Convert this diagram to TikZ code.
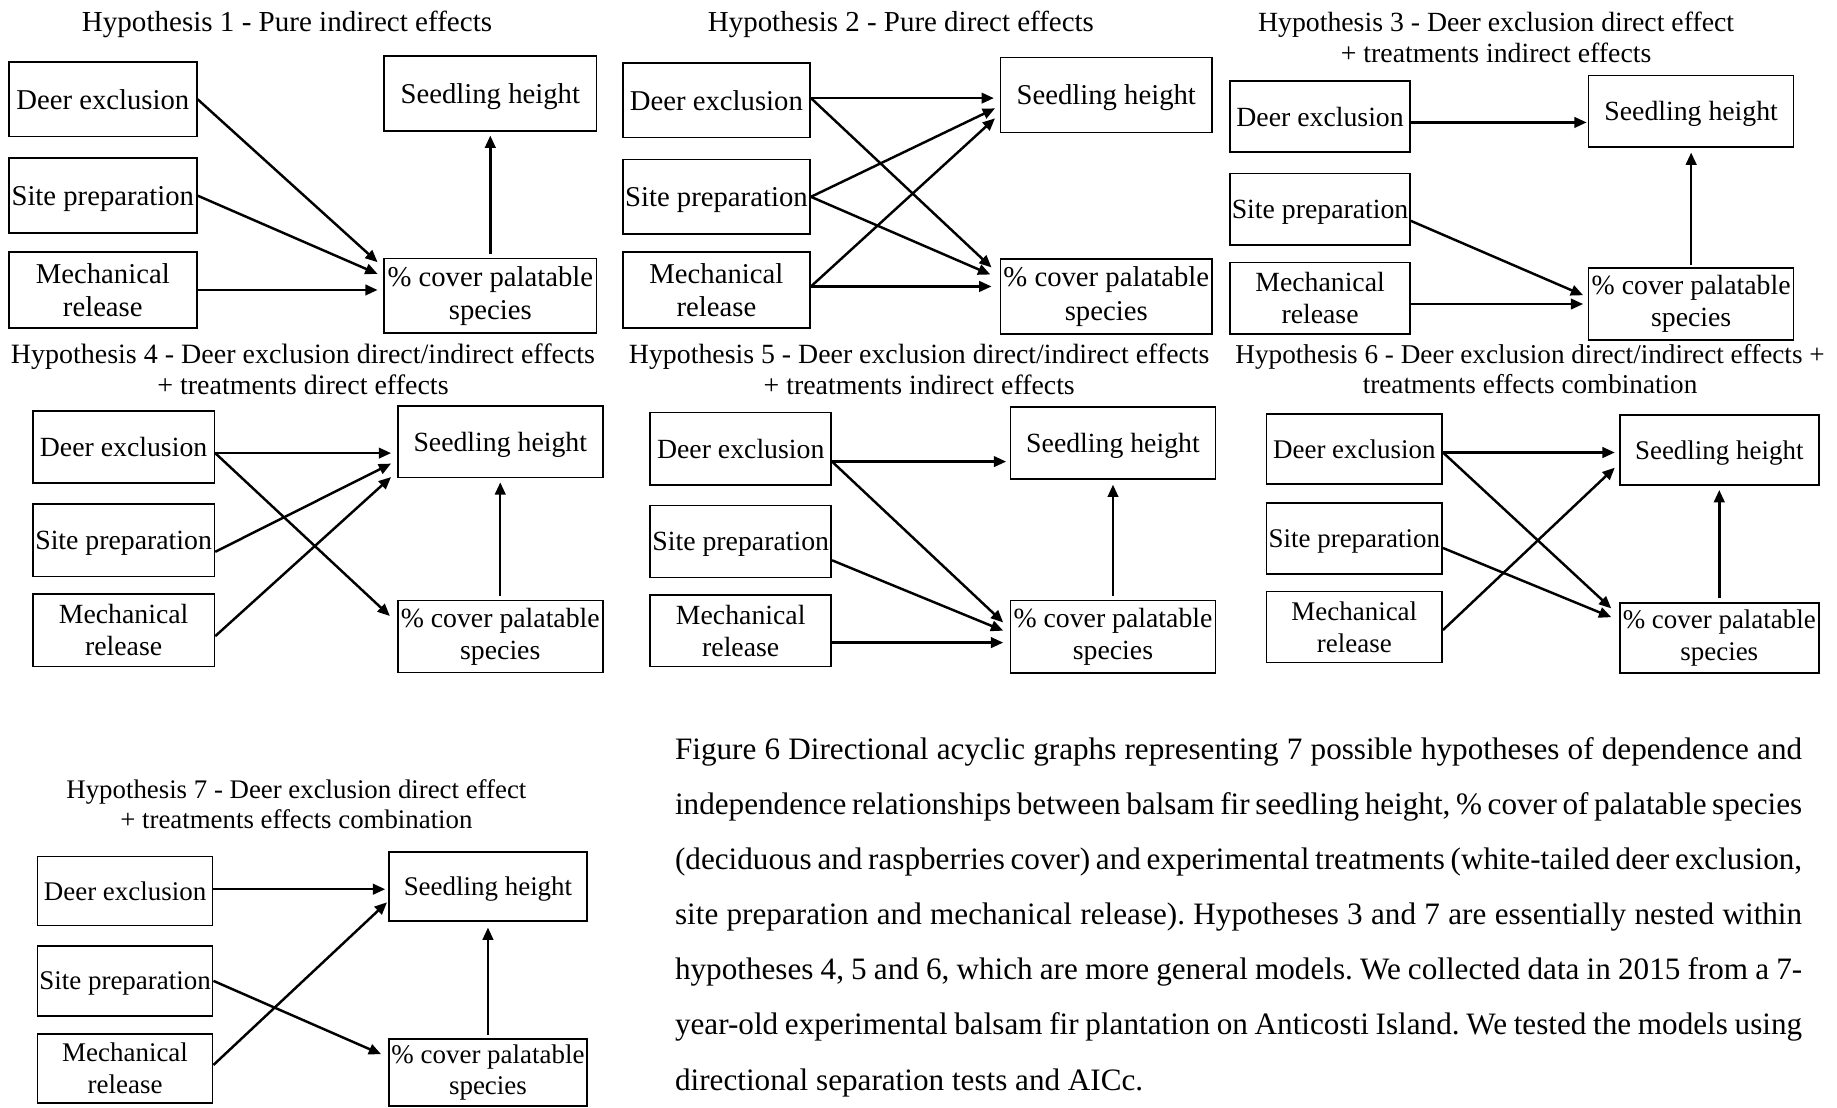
\documentclass[tikz,border=0pt]{standalone}
\usepackage{fontspec}
\setmainfont{Liberation Serif}
\usetikzlibrary{arrows.meta,calc}
\newcommand{\capsetup}{\frenchspacing\spaceskip=0.25em plus 0.15em minus 0.16em\relax\tolerance=9999\relax\hyphenpenalty=10000\relax\baselineskip=47pt\relax}
\tikzset{
  bx/.style={draw, line width=1.4pt, inner sep=0pt, align=center},
  sl/.style={text depth=0pt},
  arr/.style={-{Triangle[length=10.5pt,width=9pt]}, line width=2.1pt},
  ttl/.style={inner sep=0pt, align=center},
  captxt/.style={inner sep=0pt, text width=962pt, align=justify, font=\fontsize{26.6}{47}\selectfont}
}
\newcommand{\mybox}[7][]{\node[bx, #1, minimum width={#5-#3}, minimum height={#6-#4}] (#2) at ({(#3+#5)/2},{(#4+#6)/2}) {#7};}
\begin{document}
\begin{tikzpicture}[x=1pt,y=-1pt]
\path[fill=white,use as bounding box] (0,0) rectangle (1568,945);

% ---------------- Hypothesis 1
\node[ttl, sl, font=\fontsize{24.8}{26.5}\selectfont] (t1) at (245,18.5) {Hypothesis 1 - Pure indirect effects};
\begin{scope}[bx/.append style={font=\fontsize{24.5}{28.5}\selectfont}]
\mybox[sl]{d1}{7.5}{53}{168}{116.5}{Deer exclusion}
\mybox[sl]{s1}{7.5}{135}{168}{199}{Site preparation}
\mybox{m1}{7.5}{215}{168}{280}{Mechanical\\release}
\mybox[sl]{h1}{328}{48}{509}{112}{Seedling height}
\mybox{c1}{328}{220.5}{509}{284.5}{\% cover palatable\\species}
\end{scope}
\draw[arr] (d1.east) -- ($(c1.north west)+(-5,4)$);
\draw[arr] (s1.east) -- ($(c1.north west)+(-5,14)$);
\draw[arr] (m1.east) -- ($(m1.east -| c1.west)+(-5,0)$);
\draw[arr] ($(c1.north)+(0,-3)$) -- ($(h1.south)+(0,3)$);

% ---------------- Hypothesis 2
\node[ttl, sl, font=\fontsize{24.7}{26.5}\selectfont] (t2) at (769,18.5) {Hypothesis 2 - Pure direct effects};
\begin{scope}[bx/.append style={font=\fontsize{24.5}{28.5}\selectfont}]
\mybox[sl]{d2}{531.5}{54}{691.5}{117.5}{Deer exclusion}
\mybox[sl]{s2}{531.5}{136}{691.5}{200}{Site preparation}
\mybox{m2}{531.5}{215}{691.5}{280}{Mechanical\\release}
\mybox[sl]{h2}{854}{49}{1034.5}{113}{Seedling height}
\mybox{c2}{854}{221}{1034.5}{285}{\% cover palatable\\species}
\end{scope}
\draw[arr] ($(d2.east)+(0,-2)$) -- ($(d2.east -| h2.west)+(-5,-2)$);
\draw[arr] ($(d2.east)+(0,-2)$) -- ($(c2.north west)+(-7,8)$);
\draw[arr] (s2.east) -- ($(h2.west)+(-4,11.5)$);
\draw[arr] (s2.east) -- ($(c2.north west)+(-8,14)$);
\draw[arr] ($(m2.east)+(0,-3)$) -- ($(h2.west)+(-4,20)$);
\draw[arr] ($(m2.east)+(0,-3)$) -- ($(m2.east -| c2.west)+(-7,-3)$);

% ---------------- Hypothesis 3
\node[ttl, font=\fontsize{23.7}{26.5}\selectfont] (t3) at (1277,31.75) {Hypothesis 3 - Deer exclusion direct effect\\+ treatments indirect effects};
\begin{scope}[bx/.append style={font=\fontsize{23.7}{27.5}\selectfont}]
\mybox[sl]{d3}{1050}{69}{1203.5}{130}{Deer exclusion}
\mybox[sl]{s3}{1050}{148}{1203.5}{209}{Site preparation}
\mybox{m3}{1050}{224}{1203.5}{285}{Mechanical\\release}
\mybox[sl]{h3}{1356}{64.5}{1531}{125.5}{Seedling height}
\mybox{c3}{1356}{229}{1531}{290}{\% cover palatable\\species}
\end{scope}
\draw[arr] ($(d3.east)+(0,5)$) -- ($(d3.east -| h3.west)+(-1,5)$);
\draw[arr] ($(s3.east)+(0,10)$) -- ($(c3.west)+(-4,-7.5)$);
\draw[arr] ($(m3.east)+(0,5)$) -- ($(m3.east -| c3.west)+(-4,5)$);
\draw[arr] ($(c3.north)+(0,-2.5)$) -- ($(h3.south)+(0,4)$);

% ---------------- Hypothesis 4
\node[ttl, font=\fontsize{23.9}{26.5}\selectfont] (t4) at (258.6,315) {Hypothesis 4 - Deer exclusion direct/indirect effects\\+ treatments direct effects};
\begin{scope}[bx/.append style={font=\fontsize{23.7}{27.5}\selectfont}]
\mybox[sl]{d4}{28}{351}{183}{412.5}{Deer exclusion}
\mybox[sl]{s4}{28}{430}{183}{492}{Site preparation}
\mybox{m4}{28}{507}{183}{569}{Mechanical\\release}
\mybox[sl]{h4}{339.5}{346.5}{514.5}{407.5}{Seedling height}
\mybox{c4}{339.5}{512.5}{514.5}{574}{\% cover palatable\\species}
\end{scope}
\draw[arr] ($(d4.east)+(0,5)$) -- ($(d4.east -| h4.west)+(-5,5)$);
\draw[arr] ($(d4.east)+(0,5)$) -- ($(c4.north west)+(-6,14)$);
\draw[arr] ($(s4.east)+(0,10)$) -- ($(h4.south west)+(-5,-12.5)$);
\draw[arr] ($(m4.east)+(0,5)$) -- ($(h4.south west)+(-5,-1)$);
\draw[arr] ($(c4.north)+(0,-3.5)$) -- ($(h4.south)+(0,3.5)$);

% ---------------- Hypothesis 5
\node[ttl, font=\fontsize{23.75}{26.5}\selectfont] (t5) at (784.6,315) {Hypothesis 5 - Deer exclusion direct/indirect effects\\+ treatments indirect effects};
\begin{scope}[bx/.append style={font=\fontsize{23.7}{27.5}\selectfont}]
\mybox[sl]{d5}{555}{352}{709.5}{414}{Deer exclusion}
\mybox[sl]{s5}{555}{431.5}{709.5}{493}{Site preparation}
\mybox{m5}{555}{508}{709.5}{569}{Mechanical\\release}
\mybox[sl]{h5}{862.5}{347.5}{1037.5}{409}{Seedling height}
\mybox{c5}{862.5}{512.5}{1037.5}{574.5}{\% cover palatable\\species}
\end{scope}
\draw[arr] ($(d5.east)+(0,11)$) -- ($(d5.east -| h5.west)+(-3,11)$);
\draw[arr] ($(d5.east)+(0,11)$) -- ($(c5.north west)+(-5.5,19.5)$);
\draw[arr] ($(s5.east)+(0,16)$) -- ($(c5.north west)+(-5.5,26.5)$);
\draw[arr] ($(m5.east)+(0,10)$) -- ($(m5.east -| c5.west)+(-5.5,10)$);
\draw[arr] ($(c5.north)+(0,-3.5)$) -- ($(h5.south)+(0,4)$);

% ---------------- Hypothesis 6
\node[ttl, font=\fontsize{23.2}{26}\selectfont] (t6) at (1306,315) {Hypothesis 6 - Deer exclusion direct/indirect effects +\\treatments effects combination};
\begin{scope}[bx/.append style={font=\fontsize{23}{27}\selectfont}]
\mybox[sl]{d6}{1081}{353.5}{1231}{413}{Deer exclusion}
\mybox[sl]{s6}{1081}{429.5}{1231}{490}{Site preparation}
\mybox{m6}{1081}{505}{1231}{565.5}{Mechanical\\release}
\mybox[sl]{h6}{1382.5}{354}{1552.5}{414}{Seedling height}
\mybox{c6}{1382.5}{514.5}{1552.5}{574.5}{\% cover palatable\\species}
\end{scope}
\draw[arr] ($(d6.east)+(0,3)$) -- ($(d6.east -| h6.west)+(-3.5,3)$);
\draw[arr] ($(d6.east)+(0,3)$) -- ($(c6.north west)+(-6.5,5.5)$);
\draw[arr] ($(s6.east)+(0,8)$) -- ($(c6.north west)+(-6.5,13)$);
\draw[arr] ($(m6.east)+(0,2.5)$) -- ($(h6.south west)+(-3.5,-15.5)$);
\draw[arr] ($(c6.north)+(0,-3)$) -- ($(h6.south)+(0,3.5)$);

% ---------------- Hypothesis 7
\node[ttl, font=\fontsize{22.9}{26}\selectfont] (t7) at (253,686.5) {Hypothesis 7 - Deer exclusion direct effect\\+ treatments effects combination};
\begin{scope}[bx/.append style={font=\fontsize{23}{27}\selectfont}]
\mybox[sl]{d7}{32}{731}{181.5}{790}{Deer exclusion}
\mybox[sl]{s7}{32}{807.5}{181.5}{867}{Site preparation}
\mybox{m7}{32}{882.5}{181.5}{941.5}{Mechanical\\release}
\mybox[sl]{h7}{332}{727}{501}{786}{Seedling height}
\mybox{c7}{332}{887}{501}{944}{\% cover palatable\\species}
\end{scope}
\draw[arr] ($(d7.east)+(0,-1.5)$) -- ($(d7.east -| h7.west)+(-2.5,-1.5)$);
\draw[arr] (s7.east) -- ($(c7.north west)+(-6,13.5)$);
\draw[arr] ($(m7.east)+(0,-3)$) -- ($(h7.south west)+(-1,-16.5)$);
\draw[arr] ($(c7.north)+(0,-3)$) -- ($(h7.south)+(0,5)$);

% ---------------- Caption
\node[captxt, anchor=north west] (caption) at (576,629.5) {\capsetup Figure 6 Directional acyclic graphs representing 7 possible hypotheses of dependence and\linebreak
independence relationships between balsam fir seedling height, \% cover of palatable species\linebreak
(deciduous and raspberries cover) and experimental treatments (white-tailed deer exclusion,\linebreak
site preparation and mechanical release). Hypotheses 3 and 7 are essentially nested within\linebreak
hypotheses 4, 5 and 6, which are more general models. We collected data in 2015 from a 7-\linebreak
year-old experimental balsam fir plantation on Anticosti Island. We tested the models using\linebreak
directional separation tests and AICc.};
\end{tikzpicture}
\end{document}
